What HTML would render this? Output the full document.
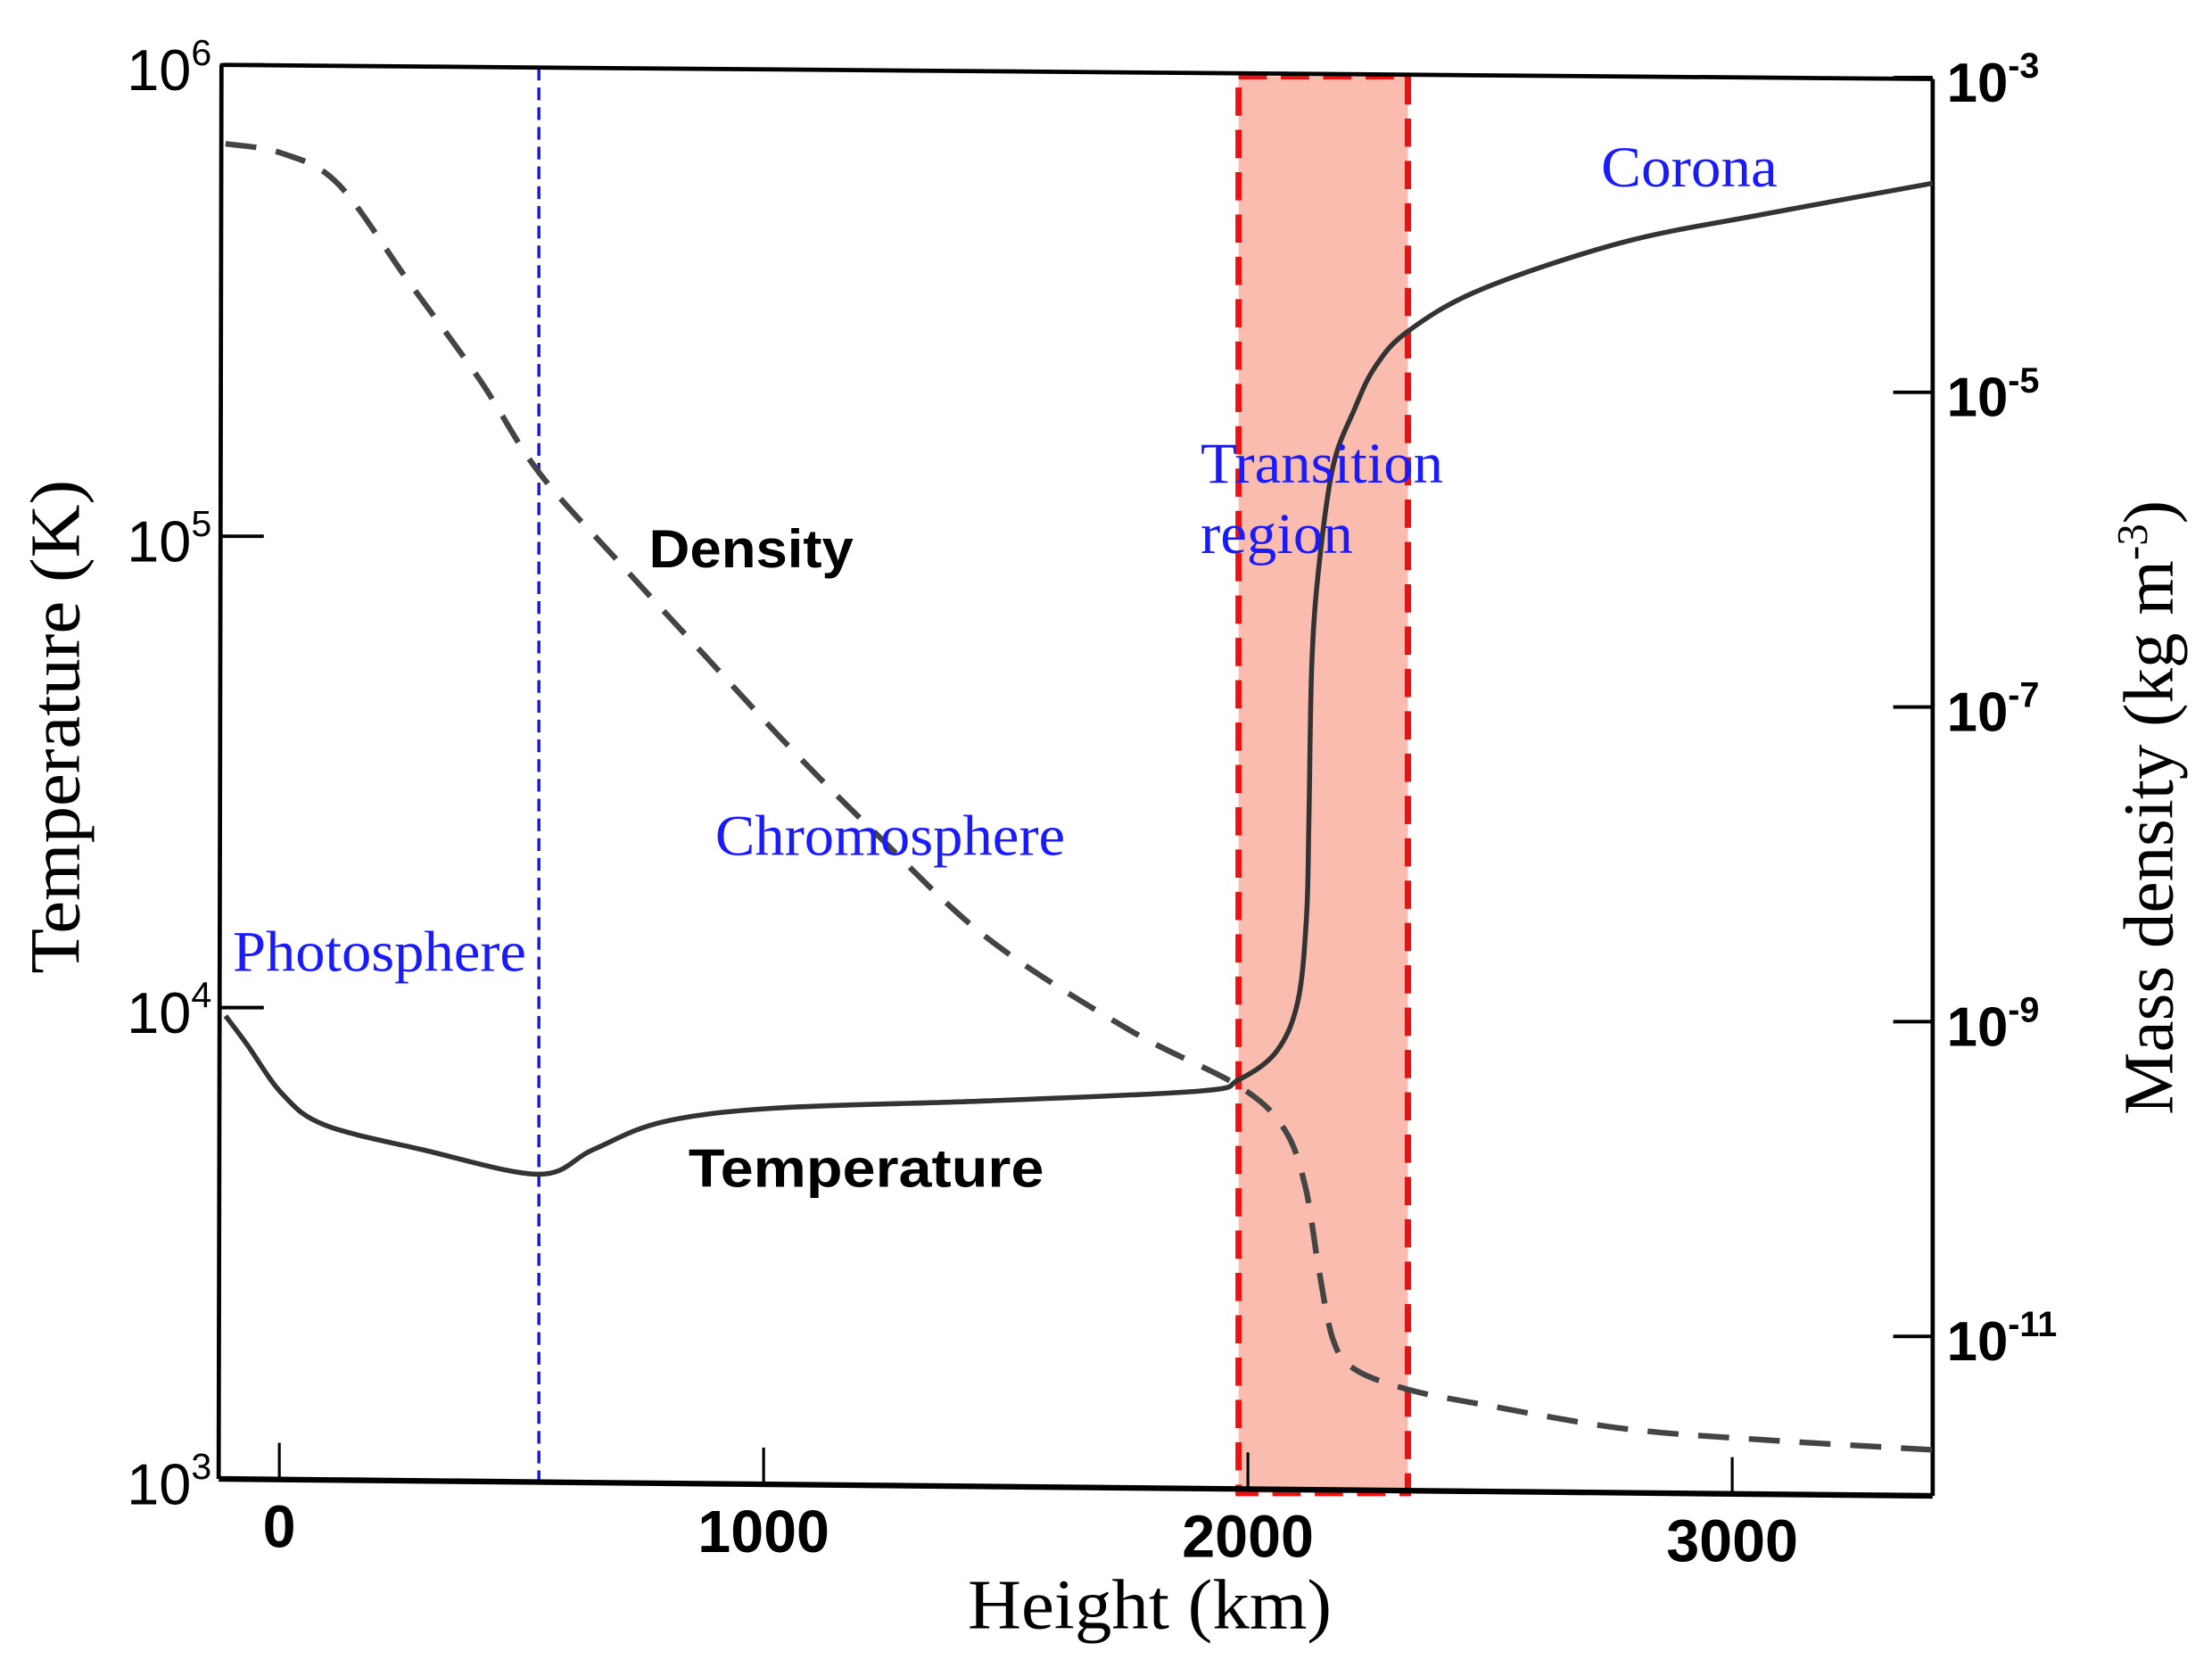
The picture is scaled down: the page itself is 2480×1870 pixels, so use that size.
<!DOCTYPE html>
<html><head><meta charset="utf-8"><style>html,body{margin:0;padding:0;background:#fff}svg{display:block}</style></head>
<body>
<svg id="chart" width="2480" height="1870" viewBox="0 0 1568 1182" preserveAspectRatio="none" xmlns="http://www.w3.org/2000/svg">
<rect x="0" y="0" width="1568" height="1182" fill="#fff"/>
<rect x="878" y="54" width="120" height="1004" fill="#f9bcae" stroke="#ee1111" stroke-width="4.5" stroke-dasharray="20,10"/>
<line x1="382" y1="48" x2="382" y2="1050" stroke="#1515ee" stroke-width="2.2" stroke-dasharray="9,5"/>
<g id="frame" stroke="#000" stroke-width="3" fill="none">
<line x1="158" y1="46" x2="1370" y2="56"/>
<line x1="157" y1="46" x2="155" y2="1048"/>
<line x1="1370" y1="56" x2="1370" y2="1060"/>
<line x1="155" y1="1048" x2="1370" y2="1060" stroke-width="4"/>
</g>
<g id="ticks"></g>
<g id="series"></g>
<g font-family="'Liberation Serif',serif" fill="#1a1aff" font-size="41" lengthAdjust="spacingAndGlyphs">
<text x="165" y="688" textLength="208" lengthAdjust="spacingAndGlyphs">Photosphere</text>
<text x="507" y="606" textLength="248" lengthAdjust="spacingAndGlyphs">Chromosphere</text>
<text x="851" y="342" textLength="172" lengthAdjust="spacingAndGlyphs">Transition</text>
<text x="851" y="392" textLength="108" lengthAdjust="spacingAndGlyphs">region</text>
<text x="1135" y="132" textLength="125" lengthAdjust="spacingAndGlyphs">Corona</text>
</g>
<g font-family="'Liberation Sans',sans-serif" font-weight="bold" font-size="38" fill="#000">
<text x="460" y="402" textLength="145" lengthAdjust="spacingAndGlyphs">Density</text>
<text x="488" y="841" textLength="252" lengthAdjust="spacingAndGlyphs">Temperature</text>
</g>
<g font-family="'Liberation Serif',serif" font-size="50" fill="#000">
<text x="686" y="1154" textLength="258" lengthAdjust="spacingAndGlyphs">Height (km)</text>
<text transform="translate(56,690) rotate(-90)" textLength="350" lengthAdjust="spacingAndGlyphs">Temperature (K)</text>
<text transform="translate(1540,790) rotate(-90)">Mass density (kg m<tspan dy="-18" font-size="31">-3</tspan><tspan dy="18">)</tspan></text>
</g>
</svg>
<script>
const heightTicks=[0,1000,2000,3000];
const tempTicks=[3,4,5,6];
const densTicks=[-3,-5,-7,-9,-11];
const tempHeights=[-111,-67,6,93,297,536,647,792,1025,1462,1899,1981,2059,2103,2121,2126,2132,2147,2176,2220,2263,2330,2482,2773,3064,3414];
const tempValues=[9600,8360,6560,5640,4990,4430,4990,5720,6120,6340,6650,7030,8070,10300,15600,25200,53800,87100,141000,186000,229000,272000,334000,420000,482000,561000];
const densHeights=[-111,6,122,268,414,536,705,880,1055,1229,1462,1754,1981,2074,2118,2147,2176,2220,2330,2482,2773,3064,3414];
const densValues=[3.8e-4,3.3e-4,2.1e-4,5.0e-5,1.2e-5,3.1e-6,8.1e-7,2.1e-7,5.5e-8,1.6e-8,3.4e-9,8.9e-10,3.9e-10,2.1e-10,9.1e-11,2.6e-11,9.5e-12,6.2e-12,4.6e-12,3.7e-12,2.6e-12,2.2e-12,1.9e-12];

const NS='http://www.w3.org/2000/svg';
function xS(h){return 198+h*0.3433;}
function yT(t){return 1048-(Math.log10(t)-3)*334;}
function yD(r){return 55+(-3-Math.log10(r))*111.5;}
function mk(tag,attrs,parent){const e=document.createElementNS(NS,tag);for(const k in attrs)e.setAttribute(k,attrs[k]);parent.appendChild(e);return e;}
function smooth(pts){let d='M'+pts[0][0]+','+pts[0][1];for(let i=0;i<pts.length-1;i++){const p0=pts[i-1]||pts[i],p1=pts[i],p2=pts[i+1],p3=pts[i+2]||p2;const c1x=p1[0]+(p2[0]-p0[0])/6,c1y=p1[1]+(p2[1]-p0[1])/6,c2x=p2[0]-(p3[0]-p1[0])/6,c2y=p2[1]-(p3[1]-p1[1])/6;d+=' C'+c1x+','+c1y+' '+c2x+','+c2y+' '+p2[0]+','+p2[1];}return d;}
const tg=document.getElementById('ticks'),sg=document.getElementById('series');
heightTicks.forEach(h=>{const x=xS(h);const yb=1048+12*(x-155)/1215;
const l=mk('line',{x1:x,y1:yb,x2:x,y2:yb-26,stroke:'#000','stroke-width':2},tg);


const t=mk('text',{x:x,y:yb+48,'text-anchor':'middle','font-family':"'Liberation Sans',sans-serif",'font-weight':'bold','font-size':'42'},tg);t.textContent=h;

});
tempTicks.forEach(p=>{const y=yT(Math.pow(10,p));
const l=mk('line',{x1:156,y1:y,x2:187,y2:y,stroke:'#000','stroke-width':2.5},tg);


const t=mk('text',{x:150,y:y+18,'text-anchor':'end','font-family':"'Liberation Sans',sans-serif",'font-size':'41'},tg);


t.innerHTML='10<tspan dy="-18" font-size="26">'+p+'</tspan>';});
densTicks.forEach(p=>{const y=yD(Math.pow(10,p));
const l=mk('line',{x1:1342,y1:y,x2:1370,y2:y,stroke:'#000','stroke-width':2.5},tg);


const t=mk('text',{x:1380,y:y+17,'font-family':"'Liberation Sans',sans-serif",'font-weight':'bold','font-size':'39'},tg);


t.innerHTML='10<tspan dy="-17" font-size="25">'+p+'</tspan>';});
const dp=densHeights.map((h,i)=>[xS(h),yD(densValues[i])]);
const dl=mk('path',{d:smooth(dp),fill:'none',stroke:'#444','stroke-width':4,'stroke-dasharray':'22,14'},sg);


const tp=tempHeights.map((h,i)=>[xS(h),yT(tempValues[i])]);
const tl=mk('path',{d:smooth(tp),fill:'none',stroke:'#333','stroke-width':3.5},sg);


</script>
</body></html>
